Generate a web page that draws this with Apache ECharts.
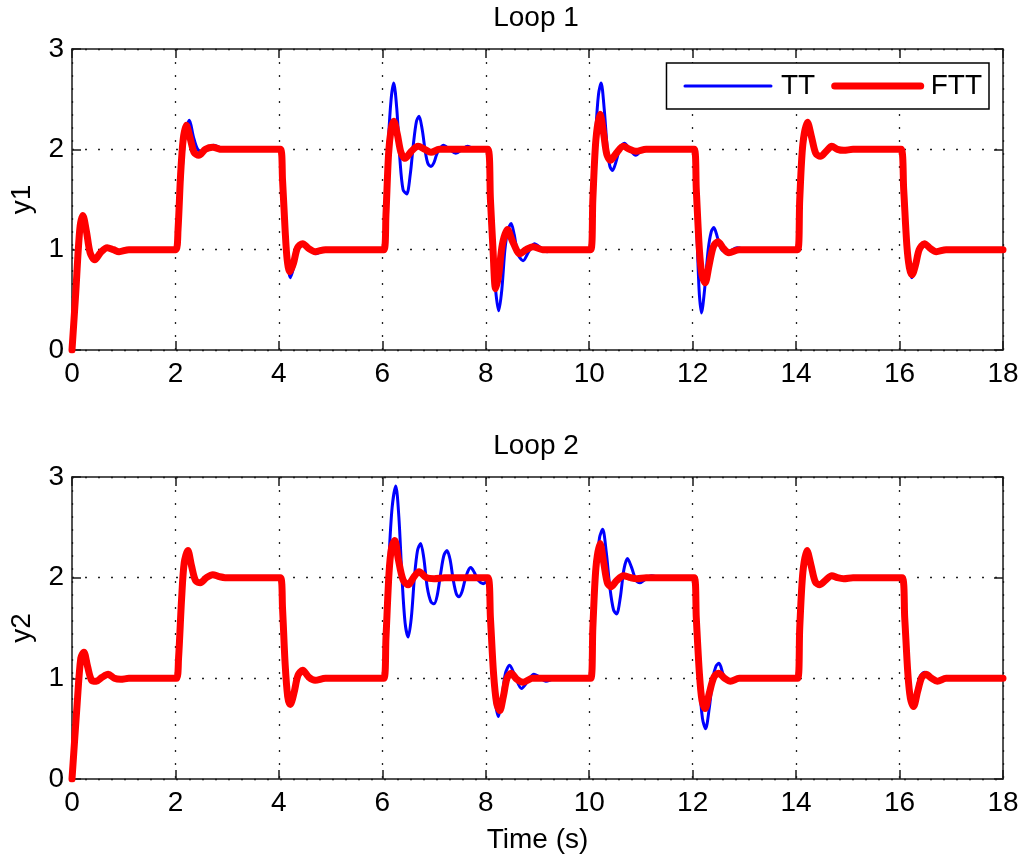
<!DOCTYPE html>
<html>
<head>
<meta charset="utf-8">
<script src="https://cdn.jsdelivr.net/npm/echarts@6/dist/echarts.min.js"></script>
<style>
  html, body { margin: 0; padding: 0; background: #fff; }
  #chart { width: 1024px; height: 860px; }
</style>
</head>
<body>
<div id="chart"></div>
<script>
// Axis ranges / ticks
const timeRange = [0, 18];
const timeStep = 2;
const yRange = [0, 3];
const yStep = 1;

// Loop 1 responses, [time, y1]
const loop1TT = [
    [0,0],[0.07,0.55],[0.15,1.2],[0.21,1.34],[0.28,1.18],[0.35,0.97],[0.44,0.90],[0.55,0.97],[0.68,1.02],[0.8,1.0],[0.91,0.98],[1.1,1.0],[1.9,1.0],[2.02,1.0],
    [2.06,1.15],[2.12,1.7],[2.18,2.1],[2.27,2.29],[2.35,2.12],[2.43,2.0],[2.51,1.98],[2.62,2.01],[2.74,2.04],[2.9,2.01],[3.1,2.0],[3.9,2.0],[4.03,2.0],
    [4.07,1.7],[4.13,1.1],[4.17,0.85],[4.22,0.72],[4.3,0.85],[4.38,1.02],[4.47,1.07],[4.6,1.0],[4.72,0.96],[4.85,0.99],[5.0,1.0],[5.9,1.0],[6.03,1.0],
    [6.07,1.4],[6.12,2.1],[6.17,2.5],[6.22,2.66],[6.28,2.4],[6.34,1.9],[6.4,1.6],[6.47,1.555],[6.54,1.75],[6.6,2.05],[6.66,2.28],[6.71,2.33],[6.77,2.2],[6.83,1.98],[6.88,1.86],[6.94,1.83],[7.0,1.87],[7.06,1.96],[7.18,2.04],[7.3,2.0],[7.42,1.96],[7.54,2.0],[7.65,2.03],[7.8,2.0],[7.9,2.0],[8.04,2.0],
    [8.08,1.6],[8.14,1.0],[8.19,0.6],[8.25,0.39],[8.31,0.6],[8.37,1.0],[8.43,1.2],[8.49,1.26],[8.55,1.15],[8.62,0.96],[8.72,0.89],[8.83,0.98],[8.94,1.06],[9.06,1.02],[9.18,0.98],[9.35,1.0],[9.9,1.0],[10.03,1.0],
    [10.07,1.5],[10.13,2.2],[10.18,2.55],[10.23,2.66],[10.29,2.4],[10.35,2.0],[10.4,1.83],[10.45,1.79],[10.52,1.88],[10.6,2.02],[10.68,2.06],[10.78,2.0],[10.9,1.94],[11.05,2.0],[11.9,2.0],[12.02,2.0],
    [12.06,1.5],[12.1,0.9],[12.13,0.55],[12.17,0.37],[12.23,0.6],[12.3,1.0],[12.36,1.18],[12.41,1.22],[12.48,1.12],[12.56,1.0],[12.68,0.98],[12.86,1.02],[13.05,1.0],[13.9,1.0],[14.03,1.0],
    [14.07,1.5],[14.13,2.05],[14.22,2.27],[14.3,2.12],[14.38,1.96],[14.47,1.93],[14.58,1.98],[14.69,2.03],[14.8,2.0],[14.92,1.99],[15.1,2.0],[15.9,2.0],[16.03,2.0],
    [16.08,1.6],[16.14,1.0],[16.19,0.8],[16.24,0.72],[16.31,0.84],[16.38,1.0],[16.48,1.07],[16.6,1.01],[16.71,0.97],[16.9,1.0],[18,1.0]
];
const loop1FTT = [
    [0,0],[0.07,0.55],[0.15,1.2],[0.21,1.34],[0.28,1.18],[0.35,0.97],[0.44,0.90],[0.55,0.97],[0.68,1.02],[0.8,1.0],[0.91,0.98],[1.1,1.0],[1.9,1.0],[2.01,1.0],
    [2.05,1.2],[2.1,1.75],[2.15,2.1],[2.21,2.24],[2.28,2.12],[2.36,1.97],[2.45,1.94],[2.58,2.0],[2.72,2.02],[2.9,2.0],[3.9,2.0],[4.03,2.0],
    [4.07,1.7],[4.12,1.2],[4.16,0.9],[4.21,0.78],[4.28,0.86],[4.36,1.02],[4.46,1.06],[4.58,1.01],[4.7,0.98],[4.9,1.0],[5.9,1.0],[6.03,1.0],
    [6.07,1.35],[6.12,1.95],[6.17,2.2],[6.22,2.28],[6.29,2.15],[6.36,1.97],[6.44,1.91],[6.56,1.98],[6.69,2.03],[6.82,2.0],[6.94,1.97],[7.1,2.0],[7.9,2.0],[8.04,2.0],
    [8.09,1.5],[8.14,1.0],[8.19,0.61],[8.25,0.75],[8.32,1.05],[8.42,1.2],[8.52,1.08],[8.66,0.96],[8.78,1.0],[8.91,1.03],[9.1,1.0],[9.9,1.0],[10.03,1.0],
    [10.07,1.5],[10.13,2.1],[10.21,2.35],[10.28,2.15],[10.34,1.95],[10.41,1.89],[10.52,1.96],[10.66,2.03],[10.78,2.0],[10.9,1.98],[11.1,2.0],[11.9,2.0],[12.03,2.0],
    [12.07,1.6],[12.13,1.0],[12.18,0.75],[12.24,0.67],[12.32,0.85],[12.4,1.03],[12.49,1.08],[12.6,1.01],[12.7,0.97],[12.9,1.0],[13.9,1.0],[14.03,1.0],
    [14.07,1.5],[14.13,2.05],[14.22,2.27],[14.3,2.12],[14.38,1.96],[14.47,1.93],[14.58,1.98],[14.69,2.03],[14.8,2.0],[14.92,1.99],[15.1,2.0],[15.9,2.0],[16.03,2.0],
    [16.08,1.6],[16.14,1.05],[16.19,0.82],[16.24,0.75],[16.31,0.85],[16.38,1.0],[16.48,1.06],[16.6,1.01],[16.71,0.98],[16.9,1.0],[18,1.0]
];

// Loop 2 responses, [time, y2]
const loop2TT = [
    [0,0],[0.1,0.75],[0.17,1.2],[0.23,1.26],[0.3,1.12],[0.38,0.98],[0.47,0.97],[0.58,1.01],[0.7,1.04],[0.82,1.0],[0.94,0.99],[1.1,1.0],[1.9,1.0],[2.02,1.0],
    [2.06,1.2],[2.12,1.8],[2.17,2.15],[2.24,2.27],[2.31,2.12],[2.39,1.97],[2.48,1.95],[2.6,2.0],[2.72,2.03],[2.85,2.01],[2.96,2.0],[3.9,2.0],[4.03,2.0],
    [4.07,1.7],[4.12,1.15],[4.17,0.82],[4.22,0.74],[4.29,0.85],[4.37,1.03],[4.46,1.08],[4.58,1.01],[4.7,0.98],[4.9,1.0],[5.9,1.0],[6.03,1.0],
    [6.07,1.4],[6.13,2.2],[6.19,2.7],[6.26,2.91],[6.32,2.6],[6.38,2.0],[6.44,1.55],[6.5,1.41],[6.56,1.6],[6.62,2.0],[6.68,2.27],[6.74,2.34],[6.8,2.2],[6.87,1.9],[6.94,1.76],[7.0,1.74],[7.06,1.82],[7.13,2.05],[7.19,2.22],[7.25,2.27],[7.31,2.18],[7.37,1.98],[7.43,1.84],[7.48,1.81],[7.54,1.86],[7.6,1.98],[7.66,2.07],[7.71,2.1],[7.78,2.05],[7.86,1.97],[7.95,1.94],[8.02,1.96],
    [8.06,1.8],[8.1,1.3],[8.15,0.9],[8.24,0.62],[8.31,0.8],[8.38,1.05],[8.46,1.13],[8.56,1.03],[8.69,0.9],[8.81,0.97],[8.93,1.04],[9.05,1.01],[9.16,0.97],[9.28,0.99],[9.39,1.01],[9.6,1.0],[9.9,1.0],[10.03,1.0],
    [10.07,1.4],[10.13,2.05],[10.2,2.4],[10.26,2.48],[10.33,2.25],[10.4,1.9],[10.47,1.68],[10.53,1.64],[10.6,1.8],[10.67,2.08],[10.74,2.19],[10.82,2.1],[10.9,1.98],[10.98,1.95],[11.1,1.99],[11.2,2.02],[11.4,2.0],[11.9,2.0],[12.03,2.0],
    [12.07,1.55],[12.13,0.95],[12.19,0.6],[12.25,0.5],[12.32,0.7],[12.39,1.0],[12.45,1.12],[12.51,1.15],[12.6,1.03],[12.73,0.97],[12.9,1.0],[13.9,1.0],[14.03,1.0],
    [14.07,1.5],[14.13,2.05],[14.21,2.27],[14.29,2.12],[14.37,1.96],[14.46,1.93],[14.58,1.98],[14.69,2.02],[14.8,2.0],[14.92,1.99],[15.1,2.0],[15.9,2.0],[16.03,2.0],
    [16.08,1.6],[16.14,1.05],[16.2,0.8],[16.26,0.73],[16.33,0.88],[16.4,1.02],[16.48,1.06],[16.6,1.0],[16.73,0.97],[16.9,1.0],[18,1.0]
];
const loop2FTT = [
    [0,0],[0.1,0.75],[0.17,1.2],[0.23,1.26],[0.3,1.12],[0.38,0.98],[0.47,0.97],[0.58,1.01],[0.7,1.04],[0.82,1.0],[0.94,0.99],[1.1,1.0],[1.9,1.0],[2.02,1.0],
    [2.06,1.2],[2.12,1.8],[2.17,2.15],[2.24,2.27],[2.31,2.12],[2.39,1.97],[2.48,1.95],[2.6,2.0],[2.72,2.03],[2.85,2.01],[2.96,2.0],[3.9,2.0],[4.03,2.0],
    [4.07,1.7],[4.12,1.15],[4.17,0.82],[4.22,0.74],[4.29,0.85],[4.37,1.03],[4.46,1.08],[4.58,1.01],[4.7,0.98],[4.9,1.0],[5.9,1.0],[6.03,1.0],
    [6.07,1.4],[6.13,2.05],[6.18,2.3],[6.24,2.37],[6.31,2.18],[6.4,1.98],[6.5,1.93],[6.6,2.0],[6.71,2.06],[6.85,2.0],[7.0,1.99],[7.2,2.0],[7.9,2.0],[8.04,2.0],
    [8.09,1.6],[8.15,1.05],[8.21,0.75],[8.27,0.68],[8.34,0.82],[8.41,1.0],[8.49,1.05],[8.6,0.99],[8.72,0.96],[8.9,1.0],[9.9,1.0],[10.03,1.0],
    [10.07,1.5],[10.13,2.1],[10.21,2.34],[10.28,2.15],[10.35,1.95],[10.42,1.91],[10.53,1.97],[10.66,2.02],[10.8,2.0],[10.92,1.99],[11.1,2.0],[11.9,2.0],[12.03,2.0],
    [12.07,1.6],[12.13,1.05],[12.18,0.78],[12.24,0.7],[12.32,0.85],[12.41,1.01],[12.5,1.05],[12.62,1.0],[12.73,0.97],[12.9,1.0],[13.9,1.0],[14.03,1.0],
    [14.07,1.5],[14.13,2.05],[14.21,2.27],[14.29,2.12],[14.37,1.96],[14.46,1.93],[14.58,1.98],[14.69,2.02],[14.8,2.0],[14.92,1.99],[15.1,2.0],[15.9,2.0],[16.05,2.0],
    [16.1,1.6],[16.16,1.05],[16.21,0.8],[16.27,0.72],[16.35,0.87],[16.43,1.01],[16.51,1.04],[16.62,1.0],[16.73,0.97],[16.9,1.0],[18,1.0]
];

const FONT = "'Liberation Sans', Arial, Helvetica, sans-serif";
const FONT_SIZE = 28;
const AXIS_COLOR = '#1a1a1a';

// One axis in the MATLAB style: inside ticks, black frame, dotted grid
function timeAxis(gridIndex, mirror, name) {
    return {
        type: 'value', gridIndex: gridIndex,
        min: timeRange[0], max: timeRange[1], interval: timeStep,
        position: mirror ? 'top' : 'bottom',
        name: name || '', nameLocation: 'middle', nameGap: 47,
        nameTextStyle: {fontFamily: FONT, fontSize: FONT_SIZE, color: '#000'},
        axisLine: {show: true, onZero: false, lineStyle: {color: AXIS_COLOR, width: 1.5}},
        axisTick: {show: true, inside: true, length: 9, lineStyle: {color: AXIS_COLOR, width: 1.5}},
        axisLabel: {show: !mirror, margin: 10, fontFamily: FONT, fontSize: FONT_SIZE, color: '#000'},
        splitLine: {show: !mirror, lineStyle: {type: [2, 11], color: '#222', width: 1.3}}
    };
}
function valueAxis(gridIndex, mirror, name) {
    return {
        type: 'value', gridIndex: gridIndex,
        min: yRange[0], max: yRange[1], interval: yStep,
        position: mirror ? 'right' : 'left',
        name: name || '', nameLocation: 'middle', nameGap: 36,
        nameTextStyle: {fontFamily: FONT, fontSize: FONT_SIZE, color: '#000'},
        axisLine: {show: true, onZero: false, lineStyle: {color: AXIS_COLOR, width: 1.5}},
        axisTick: {show: true, inside: true, length: 9, lineStyle: {color: AXIS_COLOR, width: 1.5}},
        axisLabel: {show: !mirror, margin: 8, fontFamily: FONT, fontSize: FONT_SIZE, color: '#000'},
        splitLine: {show: !mirror, lineStyle: {type: [2, 11], color: '#222', width: 1.3}}
    };
}
function lineSeries(name, data, axisIndex, color, width) {
    return {
        name: name, type: 'line', data: data,
        xAxisIndex: axisIndex, yAxisIndex: axisIndex,
        showSymbol: false, symbol: 'none', smooth: 0.3,
        lineStyle: {color: color, width: width, cap: 'round', join: 'round'},
        itemStyle: {color: color}
    };
}

const chart = echarts.init(document.getElementById('chart'));
chart.setOption({
    animation: false,
    backgroundColor: '#fff',
    title: [
        {text: 'Loop 1', left: 536, top: 1, textAlign: 'center', padding: 0,
         textStyle: {fontFamily: FONT, fontSize: FONT_SIZE, fontWeight: 'normal', color: '#000', lineHeight: 34}},
        {text: 'Loop 2', left: 536, top: 429, textAlign: 'center', padding: 0,
         textStyle: {fontFamily: FONT, fontSize: FONT_SIZE, fontWeight: 'normal', color: '#000', lineHeight: 34}}
    ],
    legend: {
        data: ['TT', 'FTT'],
        top: 63, right: 35,
        padding: [9, 7, 9, 17],
        itemGap: 16, itemWidth: 86, itemHeight: 28,
        backgroundColor: '#fff', borderColor: '#000', borderWidth: 1.5, borderRadius: 0,
        itemStyle: {opacity: 0},
        lineStyle: {width: 'inherit'},
        textStyle: {fontFamily: FONT, fontSize: FONT_SIZE, color: '#000', padding: [0, 0, 0, 5]}
    },
    grid: [
        {left: 70, right: 21, top: 49, height: 301},
        {left: 70, right: 21, top: 477, height: 302}
    ],
    xAxis: [timeAxis(0, false), timeAxis(0, true), timeAxis(1, false, 'Time (s)'), timeAxis(1, true)],
    yAxis: [valueAxis(0, false, 'y1'), valueAxis(0, true), valueAxis(1, false, 'y2'), valueAxis(1, true)],
    series: [
        lineSeries('TT', loop1TT, 0, '#0000ff', 3),
        lineSeries('FTT', loop1FTT, 0, '#ff0000', 7),
        lineSeries('TT', loop2TT, 2, '#0000ff', 3),
        lineSeries('FTT', loop2FTT, 2, '#ff0000', 7)
    ]
});
</script>
</body>
</html>
